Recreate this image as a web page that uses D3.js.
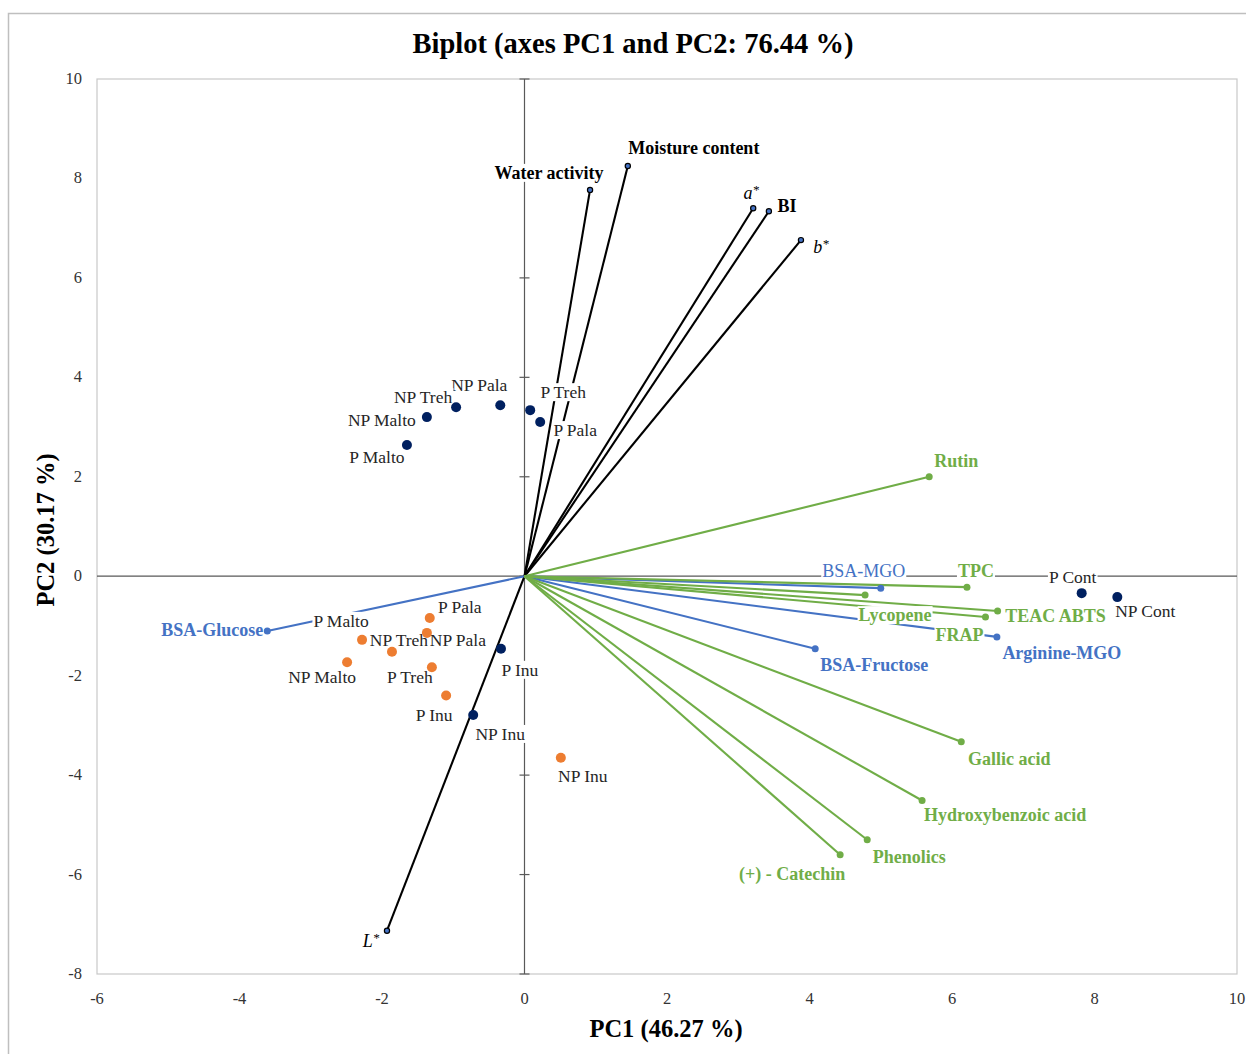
<!DOCTYPE html>
<html lang="en">
<head>
    <meta charset="UTF-8">
    <title>Biplot</title>
    <style>
        body { margin: 0; background: #fff; }
        text { font-family: 'Liberation Serif', 'Times New Roman', serif; }
        .tick-label { font-size: 16.5px; fill: #333; }
    </style>
</head>
<body>

<script src="https://d3js.org/d3.v7.min.js"></script>
<script>

    // observations: name, PC1, PC2
    const obsNames  = ['NP Pala', 'NP Treh', 'NP Malto', 'P Malto', 'P Treh', 'P Pala', 'P Cont', 'NP Cont', 'P Inu', 'NP Inu'];
    const obsNavyX  = [-0.34, -0.96, -1.37, -1.65, 0.08, 0.22, 7.82, 8.32, -0.33, -0.72];
    const obsNavyY  = [3.44, 3.40, 3.20, 2.64, 3.34, 3.10, -0.34, -0.42, -1.46, -2.79];

    const obsOrangeNames = ['P Pala', 'NP Pala', 'P Malto', 'NP Treh', 'NP Malto', 'P Treh', 'P Inu', 'NP Inu'];
    const obsOrangeX = [-1.33, -1.37, -2.28, -1.86, -2.49, -1.30, -1.10, 0.51];
    const obsOrangeY = [-0.84, -1.14, -1.28, -1.52, -1.73, -1.83, -2.40, -3.65];

    // variables (loadings)
    const physNames = ['Water activity', 'Moisture content', 'a*', 'BI', 'b*', 'L*'];
    const physX = [0.92, 1.45, 3.21, 3.43, 3.88, -1.93];
    const physY = [7.77, 8.25, 7.40, 7.34, 6.76, -7.13];

    const glyNames = ['BSA-Glucose', 'BSA-MGO', 'BSA-Fructose', 'Arginine-MGO'];
    const glyX = [-3.61, 5.00, 4.08, 6.63];
    const glyY = [-1.10, -0.24, -1.46, -1.22];

    const antiNames = ['TPC', 'Lycopene', 'TEAC ABTS', 'FRAP', 'Rutin', 'Gallic acid', 'Hydroxybenzoic acid', 'Phenolics', '(+) - Catechin'];
    const antiX = [6.21, 4.78, 6.64, 6.47, 5.68, 6.13, 5.58, 4.81, 4.43];
    const antiY = [-0.22, -0.38, -0.70, -0.82, 2.00, -3.33, -4.51, -5.30, -5.60];

    const xTicks = [-6, -4, -2, 0, 2, 4, 6, 8, 10];
    const yTicks = [-8, -6, -4, -2, 0, 2, 4, 6, 8, 10];

    // label offsets in px from the point (label centre)
    const navyOffsets = [[-21,-20], [-33,-10], [-45,3], [-30,12], [33,-18], [35,8], [-9,-16], [28,14], [19,21], [27,19]];
    const orangeOffsets = [[30,-11], [31,7], [-21,-19], [7,-12], [-25,15], [-22,10], [-12,19], [22,18]];
    const physOffsets = [[-41,-17], [66,-18], [-2,-15], [18,-5], [20,7], [-16,10]];
    const glyOffsets = [[-55,-1], [-17,-17], [59,16], [65,16]];
    const antiOffsets = [[9,-16], [30,20], [58,5], [-26,18], [27,-16], [48,17], [83,15], [42,17], [-48,19]];

    const W = 1246, H = 1054;
    const plot = {left: 97, right: 1237, top: 79, bottom: 974};

    const navy = '#002060', orange = '#ED7D31', blue = '#4472C4', green = '#70AD47';

    let svg = d3.select('body').append('svg')
        .attr('width', W)
        .attr('height', H);

    // outer chart border
    svg.append('rect')
        .attr('x', 8.5).attr('y', 13.5)
        .attr('width', W + 10).attr('height', H + 10)
        .style('fill', 'none').style('stroke', '#bfbfbf').style('stroke-width', 1.5);

    let x = d3.scaleLinear().domain([-6, 10]).range([plot.left, plot.right]);
    let y = d3.scaleLinear().domain([-8, 10]).range([plot.bottom, plot.top]);

    // plot frame
    svg.append('rect')
        .attr('x', plot.left).attr('y', plot.top)
        .attr('width', plot.right - plot.left).attr('height', plot.bottom - plot.top)
        .style('fill', 'none').style('stroke', '#c8c8c8').style('stroke-width', 1.2);

    // tick labels
    svg.append('g').selectAll('text')
        .data(xTicks)
        .enter().append('text')
        .attr('class', 'tick-label')
        .attr('x', d => x(d))
        .attr('y', plot.bottom + 30)
        .attr('text-anchor', 'middle')
        .text(d => d);

    svg.append('g').selectAll('text')
        .data(yTicks)
        .enter().append('text')
        .attr('class', 'tick-label')
        .attr('x', plot.left - 15)
        .attr('y', d => y(d) + 5)
        .attr('text-anchor', 'end')
        .text(d => d);

    // axes through origin
    let axes = svg.append('g');
    axes.append('line')
        .attr('x1', plot.left).attr('x2', plot.right)
        .attr('y1', y(0)).attr('y2', y(0))
        .style('stroke', '#595959').style('stroke-width', 1.2);
    axes.append('line')
        .attr('x1', x(0)).attr('x2', x(0))
        .attr('y1', plot.top).attr('y2', plot.bottom)
        .style('stroke', '#595959').style('stroke-width', 1.2);
    axes.selectAll('.ytick')
        .data(yTicks)
        .enter().append('line')
        .attr('x1', x(0) - 5).attr('x2', x(0) + 5)
        .attr('y1', d => y(d)).attr('y2', d => y(d))
        .style('stroke', '#595959').style('stroke-width', 1.2);

    // titles
    svg.append('text')
        .attr('x', 633).attr('y', 53)
        .attr('text-anchor', 'middle')
        .style('font-size', '28.5px').style('font-weight', 'bold').style('fill', '#000')
        .text('Biplot (axes PC1 and PC2: 76.44 %)');

    svg.append('text')
        .attr('x', 666).attr('y', 1037)
        .attr('text-anchor', 'middle')
        .style('font-size', '24.5px').style('font-weight', 'bold').style('fill', '#000')
        .text('PC1 (46.27 %)');

    svg.append('text')
        .attr('transform', 'translate(54,' + 530 + ') rotate(-90)')
        .attr('text-anchor', 'middle')
        .style('font-size', '24.5px').style('font-weight', 'bold').style('fill', '#000')
        .text('PC2 (30.17 %)');

    // vector groups
    const vectorSets = [
        {names: physNames, xs: physX, ys: physY, offs: physOffsets, line: '#000', dot: blue, dotStroke: '#000', r: 2.6, text: '#000', weight: i => (physNames[i].indexOf('*') > 0 ? 'normal' : 'bold')},
        {names: glyNames, xs: glyX, ys: glyY, offs: glyOffsets, line: blue, dot: blue, dotStroke: 'none', r: 3.5, text: blue, weight: i => (glyNames[i] == 'BSA-MGO' ? 'normal' : 'bold')},
        {names: antiNames, xs: antiX, ys: antiY, offs: antiOffsets, line: green, dot: green, dotStroke: 'none', r: 3.5, text: green, weight: () => 'bold'}
    ];

    let vecLines = svg.append('g');
    let labels = svg.append('g');
    let dots = svg.append('g');

    vectorSets.forEach(function(set) {
        vecLines.selectAll(null)
            .data(set.names)
            .enter().append('line')
            .attr('x1', x(0)).attr('y1', y(0))
            .attr('x2', (d, i) => x(set.xs[i]))
            .attr('y2', (d, i) => y(set.ys[i]))
            .style('stroke', set.line)
            .style('stroke-width', 2.1);
    });

    function addLabel(name, px, py, off, colour, weight, size) {
        let g = labels.append('g');
        let t = g.append('text')
            .attr('x', px + off[0])
            .attr('y', py + off[1] + 6)
            .attr('text-anchor', 'middle')
            .style('font-size', size + 'px')
            .style('font-weight', weight)
            .style('fill', colour);
        if (name.indexOf('*') > 0) {
            t.style('font-style', 'italic');
            t.append('tspan').text(name.replace('*', ''));
            t.append('tspan').text('*').style('font-size', '13px').attr('dy', -5);
        } else {
            t.text(name);
        }
        let b = t.node().getBBox();
        g.insert('rect', 'text')
            .attr('x', b.x - 1).attr('y', b.y + 1)
            .attr('width', b.width + 2).attr('height', b.height - 2)
            .style('fill', '#fff');
    }

    vectorSets.forEach(function(set) {
        set.names.forEach(function(n, i) {
            addLabel(n, x(set.xs[i]), y(set.ys[i]), set.offs[i], set.text, set.weight(i), 18);
        });
    });

    obsNames.forEach(function(n, i) {
        addLabel(n, x(obsNavyX[i]), y(obsNavyY[i]), navyOffsets[i], '#262626', 'normal', 17.5);
    });
    obsOrangeNames.forEach(function(n, i) {
        addLabel(n, x(obsOrangeX[i]), y(obsOrangeY[i]), orangeOffsets[i], '#262626', 'normal', 17.5);
    });

    vectorSets.forEach(function(set) {
        dots.selectAll(null)
            .data(set.names)
            .enter().append('circle')
            .attr('cx', (d, i) => x(set.xs[i]))
            .attr('cy', (d, i) => y(set.ys[i]))
            .attr('r', set.r)
            .style('fill', set.dot)
            .style('stroke', set.dotStroke)
            .style('stroke-width', 1.2);
    });

    dots.selectAll('.navy')
        .data(obsNames)
        .enter().append('circle')
        .attr('cx', (d, i) => x(obsNavyX[i]))
        .attr('cy', (d, i) => y(obsNavyY[i]))
        .attr('r', 5)
        .style('fill', navy);

    dots.selectAll('.orange')
        .data(obsOrangeNames)
        .enter().append('circle')
        .attr('cx', (d, i) => x(obsOrangeX[i]))
        .attr('cy', (d, i) => y(obsOrangeY[i]))
        .attr('r', 5)
        .style('fill', orange);

</script>

</body>
</html>
